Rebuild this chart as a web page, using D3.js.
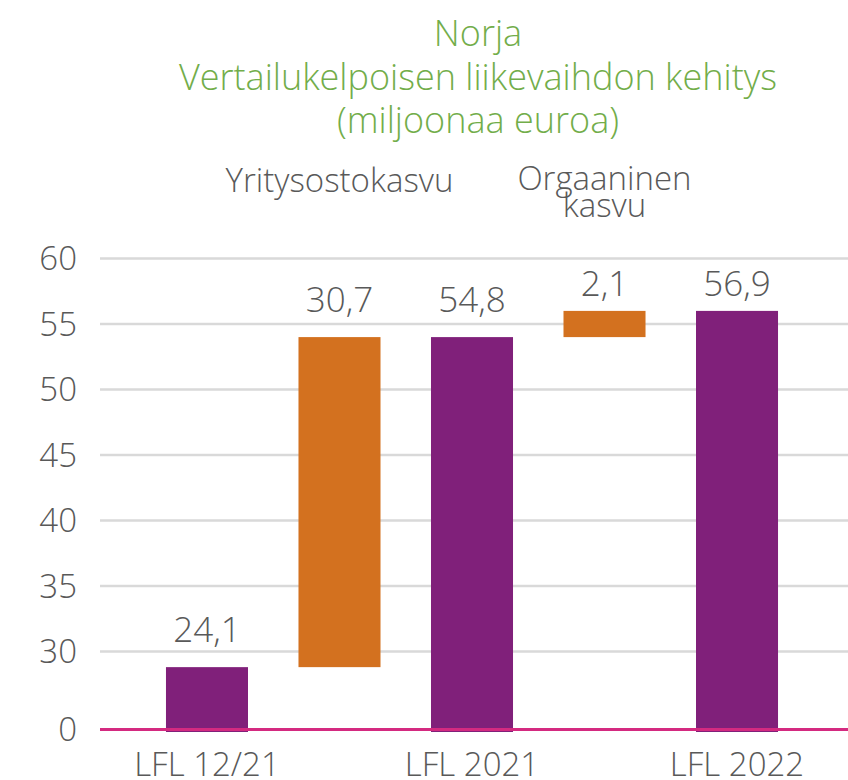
<!DOCTYPE html>
<html>
<head>
<meta charset="utf-8">
<script src="https://cdn.jsdelivr.net/npm/d3@7"></script>
<style>
  html, body { margin: 0; padding: 0; background: #fff; }
  svg { display: block; font-family: "Open Sans", sans-serif; font-weight: 300; }
</style>
</head>
<body>
<svg id="chart" width="848" height="780"></svg>
<script>
// ---- data ----
const categories = ["LFL 12/21", "Yritysostokasvu", "LFL 2021", "Orgaaninen kasvu", "LFL 2022"];
const barTypes   = ["total", "delta", "total", "delta", "total"];
const values     = [24.1, 30.7, 54.8, 2.1, 56.9];          // printed labels
// bar extents as read against the (broken) value axis
const barLow     = [0, 24.1, 0, 54.0, 0];
const barHigh    = [24.1, 54.0, 54.0, 56.0, 56.0];
const tickValues = [0, 30, 35, 40, 45, 50, 55, 60];
const titleLines = ["Norja", "Vertailukelpoisen liikevaihdon kehitys", "(miljoonaa euroa)"];

const colors = { total: "#80207a", delta: "#d3711f" };

const svg = d3.select("#chart");
const W = 848;

const x = d3.scaleBand()
  .domain(categories)
  .range([98, 846])
  .paddingInner(0.381)
  .paddingOuter(0.513);

// broken axis: 0 .. 30 compressed, 30 .. 60 regular
const y = d3.scaleLinear()
  .domain([0, 30, 60])
  .range([731, 651.5, 258.5]);

const fmt = d3.formatLocale({ decimal: ",", thousands: " ", grouping: [3], currency: ["", "€"] }).format(".1f");

// title
svg.append("g").selectAll("text")
  .data(titleLines)
  .join("text")
  .attr("x", 478)
  .attr("y", (d, i) => 46 + i * 43.5)
  .attr("text-anchor", "middle")
  .attr("fill", "#72ad4a")
  .attr("font-size", 36)
  .text(d => d);

// gridlines
const grid = tickValues.filter(t => t !== 0);
svg.append("g").selectAll("line")
  .data(grid)
  .join("line")
  .attr("x1", 100).attr("x2", W)
  .attr("y1", d => y(d)).attr("y2", d => y(d))
  .attr("stroke", "#d9d9d9")
  .attr("stroke-width", 2.5);

// y axis labels
svg.append("g").selectAll("text")
  .data(tickValues)
  .join("text")
  .attr("x", 77)
  .attr("y", d => y(d) - (d === 0 ? 2 : 0))
  .attr("dy", "0.36em")
  .attr("text-anchor", "end")
  .attr("fill", "#595959")
  .attr("font-size", 33)
  .text(d => d);

// bars
const idx = d3.range(categories.length);
svg.append("g").selectAll("rect")
  .data(idx)
  .join("rect")
  .attr("x", i => x(categories[i]))
  .attr("width", x.bandwidth())
  .attr("y", i => y(barHigh[i]))
  .attr("height", i => y(barLow[i]) - y(barHigh[i]) + (barLow[i] === 0 ? 1 : 0))
  .attr("fill", i => colors[barTypes[i]]);

// baseline
svg.append("line")
  .attr("x1", 100).attr("x2", W)
  .attr("y1", y(0) - 1.5).attr("y2", y(0) - 1.5)
  .attr("stroke", "#d42a80")
  .attr("stroke-width", 3);

// value labels (kept inside the plot area)
svg.append("g").selectAll("text")
  .data(idx)
  .join("text")
  .attr("x", i => x(categories[i]) + x.bandwidth() / 2)
  .attr("y", i => Math.max(y(barHigh[i]) - 25, y(60) + 37))
  .attr("text-anchor", "middle")
  .attr("fill", "#595959")
  .attr("font-size", 35)
  .text(i => fmt(values[i]));

// x axis labels (totals only)
svg.append("g").selectAll("text")
  .data(idx.filter(i => barTypes[i] === "total"))
  .join("text")
  .attr("x", i => x(categories[i]) + x.bandwidth() / 2)
  .attr("y", 776)
  .attr("text-anchor", "middle")
  .attr("fill", "#595959")
  .attr("font-size", 33)
  .text(i => categories[i]);

// category annotations for the change bars
const ann = svg.append("g");
idx.filter(i => barTypes[i] === "delta").forEach((i, k) => {
  const words = k === 0 ? [categories[i]] : categories[i].split(" ");
  const cx = x(categories[i]) + x.bandwidth() / 2;
  const t = ann.append("text")
    .attr("x", cx)
    .attr("y", k === 0 ? 192 : 190)
    .attr("text-anchor", "middle")
    .attr("fill", "#595959")
    .attr("font-size", 33);
  words.forEach((w, j) => {
    t.append("tspan")
      .attr("x", cx)
      .attr("dy", j === 0 ? 0 : 27)
      .text(w);
  });
});
</script>
</body>
</html>
